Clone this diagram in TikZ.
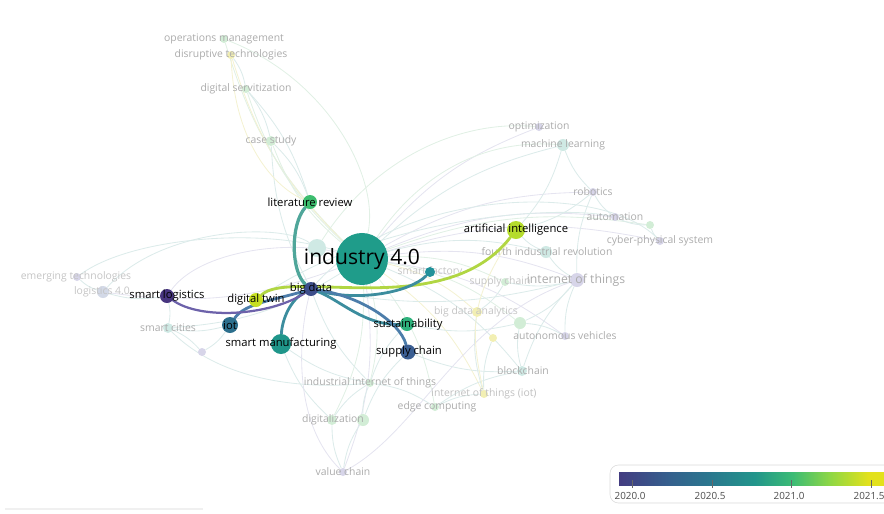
\documentclass[tikz,border=0pt]{standalone}
\usepackage{fontspec}
\setmainfont{Open Sans}
\usetikzlibrary{positioning}

\pgfdeclarelayer{faintedges}
\pgfdeclarelayer{faintnodes}
\pgfdeclarelayer{edges}
\pgfsetlayers{faintedges,faintnodes,edges,main}

% strong keyword colours
\definecolor{cInd}{HTML}{1F9C8A}
\definecolor{cLit}{HTML}{3DBD6F}
\definecolor{cAI}{HTML}{B5DC2C}
\definecolor{cBig}{HTML}{3D4E8B}
\definecolor{cTwin}{HTML}{C6DF22}
\definecolor{cLog}{HTML}{47357F}
\definecolor{cIot}{HTML}{2C6F8D}
\definecolor{cManu}{HTML}{1F968A}
\definecolor{cSust}{HTML}{2EB27C}
\definecolor{cSupply}{HTML}{3A5E92}
\definecolor{cFact}{HTML}{22929A}
% faded keyword colours
\definecolor{pGreen}{HTML}{D2EDD6}
\definecolor{pYellow}{HTML}{F2EFB3}
\definecolor{pPurple}{HTML}{D7D5E9}
\definecolor{pTeal}{HTML}{CFE9E4}
\definecolor{pBlue}{HTML}{D3D9E7}
\definecolor{labelgray}{HTML}{ABABAB}
% faint edge colours
\definecolor{fGreen}{HTML}{E1F0E5}
\definecolor{fTeal}{HTML}{DCEBEA}
\definecolor{fPurple}{HTML}{E5E4F0}
\definecolor{fYellow}{HTML}{F4F2D2}
% link colours
\definecolor{lLit}{HTML}{4FA69A}
\definecolor{lBlue}{HTML}{4C7DAA}
\definecolor{lTeal}{HTML}{3C8D9E}
\definecolor{lYel}{HTML}{B1D643}
\definecolor{lPurp}{HTML}{6D62AA}
% viridis scale
\definecolor{vA}{HTML}{41307D}
\definecolor{vB}{HTML}{433C81}
\definecolor{vC}{HTML}{355F8D}
\definecolor{vD}{HTML}{2A788E}
\definecolor{vE}{HTML}{22958B}
\definecolor{vF}{HTML}{3BBB75}
\definecolor{vG}{HTML}{8FD744}
\definecolor{vH}{HTML}{E2E11C}
\definecolor{vI}{HTML}{F1E51F}
\pgfdeclarehorizontalshading{viridis}{100bp}{color(0bp)=(vA); color(25bp)=(vB);
  color(34bp)=(vC); color(42bp)=(vD); color(50bp)=(vE); color(57bp)=(vF);
  color(64bp)=(vG); color(71bp)=(vH); color(100bp)=(vI)}

\newcommand{\stdfont}{\fontsize{8}{9}\selectfont}
\newcommand{\dimfont}{\fontsize{7.4}{8.5}\selectfont}

\tikzset{
  kw/.style={circle, inner sep=0pt, minimum size=#1*0.05cm},
  lbl/.style={font=\stdfont, text=black, inner sep=0pt},
  dimlbl/.style={font=\dimfont, text=labelgray, inner sep=0pt},
  link/.style={line width=2pt, draw=#1, line cap=round},
  faint/.style={line width=0.6pt, draw=#1},
}

\begin{document}
\begin{tikzpicture}[x=0.025cm, y=-0.025cm]
    \clip (0,0) rectangle (884,514);

    % strong keywords
    \node[kw=26, fill=cInd] (ind) at (362,259) {};
    \node[kw=7, fill=cLit] (litrev) at (310,202) {};
    \node[kw=9, fill=cAI] (ai) at (516,230) {};
    \node[kw=7, fill=cBig] (bigdata) at (311,289) {};
    \node[kw=7, fill=cTwin] (twin) at (256,300) {};
    \node[kw=7, fill=cLog] (smartlog) at (167,296) {};
    \node[kw=8, fill=cIot] (iot) at (230,325) {};
    \node[kw=10, fill=cManu] (manu) at (281,344) {};
    \node[kw=7, fill=cSust] (sust) at (407,324) {};
    \node[kw=7.5, fill=cSupply] (supply) at (408,352) {};
    \node[kw=5, fill=cFact] (fact) at (430,272) {};

    \node[lbl, font=\fontsize{15}{17}\selectfont] (ind-t) at (ind) {industry 4.0};
    \node[lbl] (litrev-t) at (litrev) {literature review};
    \node[lbl] (ai-t) at (ai) {artificial intelligence};
    \node[lbl] (bigdata-t) at (bigdata) {big data};
    \node[lbl] (twin-t) at (twin) {digital twin};
    \node[lbl] (smartlog-t) at (smartlog) {smart logistics};
    \node[lbl] (iot-t) at (iot) {iot};
    \node[lbl] (manu-t) at (manu) {smart manufacturing};
    \node[lbl] (sust-t) at (408,325) {sustainability};
    \node[lbl] (supply-t) at (409,352) {supply chain};

    % faded keywords
    \begin{pgfonlayer}{faintnodes}
    \node[kw=4, fill=pGreen] (opsmgmt) at (224,39) {};
    \node[kw=4, fill=pYellow] (disrupt) at (231,55) {};
    \node[kw=4, fill=pGreen] (digserv) at (246,89) {};
    \node[kw=5, fill=pGreen] (casestudy) at (271,141) {};
    \node[kw=4, fill=pPurple] (optim) at (539,127) {};
    \node[kw=6, fill=pTeal] (mlearn) at (563,145) {};
    \node[kw=4, fill=pPurple] (robotics) at (593,192) {};
    \node[kw=4, fill=pPurple] (automation) at (615,217) {};
    \node[kw=4, fill=pGreen] (unkA) at (650,225) {};
    \node[kw=4, fill=pPurple] (cps) at (660,241) {};
    \node[kw=6, fill=pTeal] (fourth) at (546,252) {};
    \node[kw=7, fill=pPurple] (iotthings) at (577,280) {};
    \node[kw=4, fill=pGreen] (scm) at (505,282) {};
    \node[kw=5, fill=pYellow] (bda) at (477,312) {};
    \node[kw=6, fill=pGreen] (unkB) at (520,323) {};
    \node[kw=4, fill=pYellow] (unkC) at (493,338) {};
    \node[kw=4, fill=pPurple] (autoveh) at (565,336) {};
    \node[kw=5, fill=pTeal] (blockchain) at (522,371) {};
    \node[kw=4, fill=pYellow] (iotiot) at (484,394) {};
    \node[kw=4, fill=pGreen] (edge) at (435,407) {};
    \node[kw=4, fill=pGreen] (iiot) at (370,383) {};
    \node[kw=5, fill=pGreen] (digit) at (332,420) {};
    \node[kw=6, fill=pGreen] (digit2) at (363,420) {};
    \node[kw=4, fill=pPurple] (valuechain) at (343,472) {};
    \node[kw=4, fill=pPurple] (emerging) at (77,277) {};
    \node[kw=6, fill=pBlue] (log40) at (103,292) {};
    \node[kw=5, fill=pTeal] (smartcities) at (168,328) {};
    \node[kw=4, fill=pPurple] (unkD) at (202,352) {};
    \node[kw=9, fill=pTeal] (unkE) at (317,248) {};

    \node[dimlbl] (opsmgmt-t) at (opsmgmt) {operations management};
    \node[dimlbl] (disrupt-t) at (disrupt) {disruptive technologies};
    \node[dimlbl] (digserv-t) at (digserv) {digital servitization};
    \node[dimlbl] (casestudy-t) at (casestudy) {case study};
    \node[dimlbl] (optim-t) at (optim) {optimization};
    \node[dimlbl] (mlearn-t) at (mlearn) {machine learning};
    \node[dimlbl] (robotics-t) at (robotics) {robotics};
    \node[dimlbl] (automation-t) at (automation) {automation};
    \node[dimlbl] (cps-t) at (cps) {cyber-physical system};
    \node[dimlbl] (fourth-t) at (547,252) {fourth industrial revolution};
    \node[dimlbl, font=\fontsize{8.7}{10}\selectfont] (iotthings-t) at (576,280) {internet of things};
    \node[dimlbl, text=labelgray!70] (scm-t) at (500,282) {supply chain};
    \node[dimlbl, text=labelgray!70] (bda-t) at (476,312) {big data analytics};
    \node[dimlbl] (autoveh-t) at (565,336) {autonomous vehicles};
    \node[dimlbl] (blockchain-t) at (523,371) {blockchain};
    \node[dimlbl, text=labelgray!75] (iotiot-t) at (484,394) {internet of things (iot)};
    \node[dimlbl] (edge-t) at (437,407) {edge computing};
    \node[dimlbl] (iiot-t) at (370,383) {industrial internet of things};
    \node[dimlbl] (digit-t) at (333,420) {digitalization};
    \node[dimlbl] (valuechain-t) at (valuechain) {value chain};
    \node[dimlbl, text=labelgray!70] (emerging-t) at (76,277) {emerging technologies};
    \node[dimlbl, text=labelgray!70] (log40-t) at (102,292) {logistics 4.0};
    \node[dimlbl] (smartcities-t) at (smartcities) {smart cities};
    \node[dimlbl, text=labelgray!70] (fact-t) at (430,272) {smart factory};
    \end{pgfonlayer}

    % faint co-occurrence links
    \begin{pgfonlayer}{faintedges}
    \foreach \t/\c in {opsmgmt/fGreen, disrupt/fYellow, digserv/fGreen, casestudy/fGreen,
        optim/fPurple, mlearn/fTeal, robotics/fPurple, automation/fPurple, cps/fPurple,
        fourth/fTeal, iotthings/fPurple, scm/fGreen, bda/fYellow, unkB/fGreen, autoveh/fPurple,
        blockchain/fTeal, iotiot/fYellow, edge/fGreen, iiot/fGreen, digit/fGreen,
        valuechain/fPurple, log40/fPurple, smartcities/fTeal, unkA/fGreen}
        \draw[faint=\c] (ind) to[bend left=14] (\t);
    \foreach \a/\b in {litrev/casestudy, casestudy/digserv, digserv/disrupt, litrev/digserv,
        casestudy/bigdata, mlearn/robotics, robotics/automation, automation/unkA, unkA/cps,
        robotics/iotthings, iotthings/autoveh, iotthings/blockchain, blockchain/edge,
        edge/iiot, iiot/digit, digit/valuechain, digit2/valuechain, iiot/digit2,
        bigdata/iiot, manu/digit, manu/iiot, log40/smartlog, emerging/log40,
        smartcities/smartlog, smartcities/iot, unkD/iot, fourth/iotthings, ai/fourth,
        ai/mlearn, ai/robotics, bda/iotiot, iotiot/edge, unkC/iotiot, bda/scm,
        scm/iotthings, supply/blockchain, sust/unkB, bigdata/iotthings, unkB/blockchain,
        unkB/iotthings, autoveh/unkB, sust/iiot, supply/digit2, unkD/smartcities}
        \draw[faint=fTeal] (\a) to[bend right=12] (\b);
    \draw[faint=fTeal] (log40) .. controls (160,228) and (280,222) .. (unkE);
    \draw[faint=fTeal] (emerging) .. controls (130,238) and (260,226) .. (ind);
    \draw[faint=fPurple] (smartlog) .. controls (200,250) and (290,240) .. (ind);
    \draw[faint=fGreen] (unkE) .. controls (380,150) and (470,120) .. (optim);
    \draw[faint=fGreen] (ind) .. controls (430,160) and (500,140) .. (mlearn);
    \draw[faint=fTeal] (bigdata) .. controls (400,190) and (600,180) .. (cps);
    \draw[faint=fTeal] (twin) .. controls (380,215) and (560,205) .. (automation);
    \draw[faint=fYellow] (disrupt) .. controls (235,150) and (280,190) .. (litrev);
    \draw[faint=fGreen] (opsmgmt) .. controls (330,80) and (380,180) .. (ind);
    \draw[faint=fPurple] (valuechain) .. controls (290,420) and (300,330) .. (bigdata);
    \draw[faint=fPurple] (valuechain) .. controls (420,430) and (460,320) .. (iotthings);
    \draw[faint=fYellow] (iotiot) .. controls (470,330) and (470,300) .. (ai);
    \draw[faint=fTeal] (smartcities) .. controls (220,380) and (300,390) .. (iiot);
    \end{pgfonlayer}

    % strong links
    \begin{pgfonlayer}{edges}
    \draw[link=lLit, line width=2.3pt] (litrev) .. controls (290,225) and (291,272) .. (bigdata);
    \draw[link=lYel] (twin) .. controls (290,268) and (445,322) .. (ai);
    \draw[link=lTeal] (bigdata) .. controls (360,302) and (410,292) .. (fact);
    \draw[link=lTeal] (bigdata) .. controls (340,300) and (365,326) .. (sust);
    \draw[link=lBlue] (bigdata) .. controls (360,296) and (400,322) .. (supply);
    \draw[link=lTeal] (bigdata) .. controls (290,300) and (282,320) .. (manu);
    \draw[link=lBlue] (bigdata) .. controls (275,300) and (245,303) .. (iot);
    \draw[link=lPurp, line width=1.6pt] (smartlog) .. controls (200,320) and (270,316) .. (bigdata);
    \end{pgfonlayer}

    % colour scale
    \draw[draw=black!15, fill=white, rounded corners=6] (610,465) rectangle (905,503);
    \shade[shading=viridis] (619,472) rectangle (890,485);
    \foreach \x/\yr in {632/2020.0, 712/2020.5, 791/2021.0, 871/2021.5} {
        \draw[black!60, line width=0.4pt] (\x,480) -- (\x,488);
        \node[inner sep=0pt, font=\fontsize{7}{8}\selectfont, text=black!70] (yr\x) at (\x-2,496) {\yr};
    }
    \draw[draw=black!6, line width=1pt] (5,509) -- (203,509);
\end{tikzpicture}
\end{document}
